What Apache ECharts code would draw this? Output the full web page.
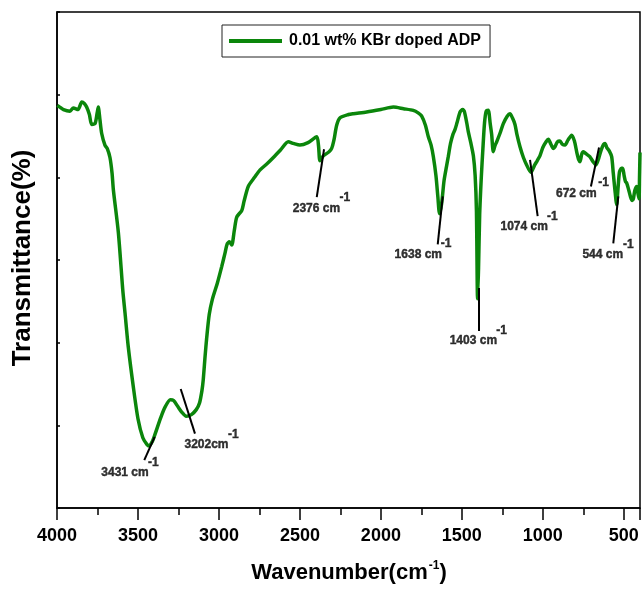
<!DOCTYPE html>
<html>
<head>
<meta charset="utf-8">
<script src="https://cdn.jsdelivr.net/npm/echarts@6/dist/echarts.min.js"></script>
<style>
  html, body { margin: 0; padding: 0; background: #fff; }
  #chart { width: 643px; height: 590px; }
</style>
</head>
<body>
<div id="chart"></div>
<script>
// FTIR spectrum of 0.01 wt% KBr doped ADP: wavenumber (cm^-1) and transmittance (%)
const wavenumber = [
  3998, 3960, 3920, 3899, 3870, 3847, 3830, 3817, 3800, 3786, 3765, 3752, 3745, 3735, 3724,
  3704, 3690, 3673, 3660, 3652, 3621, 3594, 3580, 3560, 3529, 3500, 3470, 3445, 3431, 3410,
  3395, 3360, 3333, 3300, 3280, 3255, 3230, 3202, 3170, 3140, 3120, 3105, 3097, 3085, 3076,
  3060, 3040, 3010, 2983, 2963, 2950, 2935, 2921, 2905, 2890, 2859, 2845, 2819, 2780, 2746,
  2700, 2664, 2620, 2572, 2540, 2500, 2450, 2396, 2385, 2376, 2355, 2320, 2304, 2290, 2273,
  2252, 2200, 2170, 2088, 2000, 1923, 1860, 1800, 1770, 1748, 1725, 1707, 1690, 1676, 1660,
  1648, 1638, 1625, 1610, 1595, 1584, 1570, 1555, 1542, 1530, 1511, 1495, 1485, 1470, 1460,
  1445, 1429, 1418, 1410, 1403, 1397, 1390, 1380, 1370, 1360, 1350, 1337, 1325, 1316, 1306,
  1296, 1285, 1265, 1244, 1220, 1203, 1188, 1172, 1160, 1141, 1120, 1100, 1074, 1050, 1035,
  1018, 1000, 980, 966, 950, 935, 925, 910, 894, 880, 863, 845, 822, 805, 790,
  778, 770, 760, 750, 730, 710, 690, 672, 655, 640, 625, 616, 605, 590, 575,
  565, 555, 544, 536, 527, 515, 507, 498, 490, 482, 470, 458, 448, 441, 432,
  420, 412, 406, 403, 400
];
const transmittance = [
  48.7, 48.2, 48.0, 48.4, 48.2, 49.1, 48.9, 48.5, 47.6, 46.4, 46.5, 47.8, 48.5, 47.0, 45.3,
  43.9, 43.5, 42.4, 40.5, 38.5, 33.3, 26.4, 23.6, 19.5, 14.7, 10.8, 8.5, 7.7, 7.5, 8.1,
  8.9, 10.9, 12.2, 13.1, 13.0, 12.3, 11.6, 11.1, 11.3, 11.9, 12.7, 14.2, 15.5, 18.5, 20.5,
  23.4, 25.3, 27.2, 29.2, 30.8, 31.9, 32.2, 31.8, 33.6, 35.2, 36.0, 37.1, 38.9, 40.0, 40.9,
  41.7, 42.4, 43.3, 44.3, 44.1, 43.9, 44.2, 44.9, 43.8, 42.0, 42.6, 43.1, 43.5, 44.5, 46.3,
  47.2, 47.6, 47.7, 47.9, 48.2, 48.5, 48.3, 48.1, 47.8, 47.4, 46.3, 44.9, 43.9, 42.5, 40.2,
  37.6, 35.6, 36.8, 39.6, 41.3, 42.5, 44.1, 45.2, 45.8, 46.6, 47.9, 48.2, 48.0, 46.6, 45.5,
  44.2, 42.6, 40.2, 36.0, 25.3, 29.0, 35.5, 40.0, 43.5, 46.6, 48.0, 48.1, 46.5, 45.2, 43.1,
  43.8, 44.3, 45.3, 46.5, 47.4, 47.7, 47.2, 46.4, 45.2, 43.7, 42.4, 41.5, 40.6, 41.5, 42.0,
  42.6, 43.6, 44.3, 44.6, 44.0, 43.5, 43.7, 44.3, 44.4, 44.0, 43.9, 44.5, 45.1, 44.4, 43.0,
  42.1, 41.9, 42.8, 43.1, 42.8, 42.5, 41.9, 41.5, 42.3, 43.3, 44.0, 44.1, 43.6, 43.2, 42.5,
  40.5, 38.5, 36.7, 38.6, 40.6, 41.1, 41.1, 40.2, 39.5, 39.3, 38.5, 37.6, 37.2, 37.4, 38.4,
  38.9, 38.0, 37.4, 40.0, 43.0
];

// Band assignments: label text, leader line ends, label and superscript anchors (data units)
const bandText = ['3431 cm', '3202cm', '2376 cm', '1638 cm', '1403 cm', '1074 cm', '672 cm', '544 cm'];
const leaderStart = [[3461, 5.8], [3236, 14.4], [2351, 43.4], [1618, 37.7], [1398, 26.6], [1079, 42.1], [653, 43.6], [534, 37.7]];
const leaderEnd   = [[3397, 8.6], [3148, 9.0], [2396, 37.6], [1649, 31.9], [1398, 21.4], [1032, 35.3], [703, 38.9], [565, 32.0]];
const textAnchor  = [[3580, 4.3], [3077, 7.6], [2398, 36.2], [1769, 30.7], [1429, 20.2], [1115, 34.0], [793, 38.0], [630, 30.6]];
const supAnchor   = [[3405, 5.5], [2911, 8.9], [2222, 37.5], [1598, 32.0], [1254, 21.5], [942, 35.2], [625, 39.3], [472, 31.8]];

const seriesName = '0.01 wt% KBr doped ADP';
const xTicks = { min: 400, max: 4000 };
const yRange = { min: 0, max: 60, interval: 10 };

const green = '#0b860b';
const fontFamily = 'Arial, "Liberation Sans", Helvetica, sans-serif';

const spectrum = wavenumber.map((w, i) => [w, transmittance[i]]);
const leaders = leaderStart.map((s, i) => [{ coord: s }, { coord: leaderEnd[i] }]);

const annotationLabel = {
  show: true, position: 'inside',
  fontFamily, fontSize: 12, fontWeight: 'bold', color: '#000',
  textBorderWidth: 0.4, textBorderColor: '#000'
};

const chart = echarts.init(document.getElementById('chart'), null, { renderer: 'canvas' });
chart.setOption({
  backgroundColor: '#fff',
  animation: false,
  grid: {
    left: 57, right: 3, top: 12, bottom: 82,
    show: true, borderColor: '#000', borderWidth: 1.5
  },
  legend: {
    data: [seriesName],
    left: 222, top: 25,
    icon: 'rect', itemWidth: 53, itemHeight: 4,
    padding: [8, 9, 8, 7],
    borderColor: '#222', borderWidth: 1,
    textStyle: { fontFamily, fontSize: 16, fontWeight: 'bold', color: '#000', padding: [0, 0, 0, 2] }
  },
  xAxis: {
    type: 'value', inverse: true, min: xTicks.min, max: xTicks.max, splitNumber: 7,
    axisLine: { show: true, lineStyle: { color: '#000', width: 1.5 } },
    axisTick: { show: true, length: 12, lineStyle: { color: '#000', width: 1.5 } },
    minorTick: { show: true, splitNumber: 2, length: 7, lineStyle: { color: '#000', width: 1.5 } },
    splitLine: { show: false },
    axisLabel: {
      showMinLabel: false, margin: 19,
      formatter: (v) => String(v),
      fontFamily, fontSize: 18, fontWeight: 'bold', color: '#000'
    }
  },
  yAxis: {
    type: 'value', min: yRange.min, max: yRange.max, interval: yRange.interval,
    axisLine: { show: true, lineStyle: { color: '#000', width: 1.5 } },
    axisTick: { show: true, inside: true, length: 3, lineStyle: { color: '#000', width: 1.5 } },
    axisLabel: { show: false },
    splitLine: { show: false }
  },
  graphic: [
    {
      type: 'text', x: 23, y: 258, rotation: Math.PI / 2,
      style: {
        text: 'Transmittance(%)', fill: '#000',
        font: 'bold 26px ' + fontFamily, textAlign: 'center', textVerticalAlign: 'middle'
      }
    },
    {
      type: 'text', x: 349, y: 573,
      style: {
        text: '{a|Wavenumber(cm}{s|-1}{a|)}', fill: '#000',
        textAlign: 'center', textVerticalAlign: 'middle',
        rich: {
          a: { fontFamily, fontSize: 22, fontWeight: 'bold', fill: '#000', lineHeight: 26 },
          s: { fontFamily, fontSize: 12, fontWeight: 'bold', fill: '#000', lineHeight: 26, padding: [0, 0, 14, 1] }
        }
      }
    }
  ],
  series: [
    {
      name: seriesName, type: 'line', data: spectrum,
      showSymbol: false, smooth: 0.25,
      lineStyle: { color: green, width: 3.5 },
      itemStyle: { color: green },
      z: 2,
      markLine: {
        silent: true, symbol: 'none', animation: false,
        lineStyle: { color: '#000', width: 2, type: 'solid' },
        label: { show: false },
        data: leaders
      }
    },
    {
      name: 'bandText', type: 'scatter', data: textAnchor, symbolSize: 0, silent: true, z: 5,
      itemStyle: { color: 'transparent' },
      label: Object.assign({ formatter: (p) => bandText[p.dataIndex] }, annotationLabel)
    },
    {
      name: 'bandSup', type: 'scatter', data: supAnchor, symbolSize: 0, silent: true, z: 5,
      itemStyle: { color: 'transparent' },
      label: Object.assign({ formatter: '-1' }, annotationLabel)
    }
  ]
});
</script>
</body>
</html>
